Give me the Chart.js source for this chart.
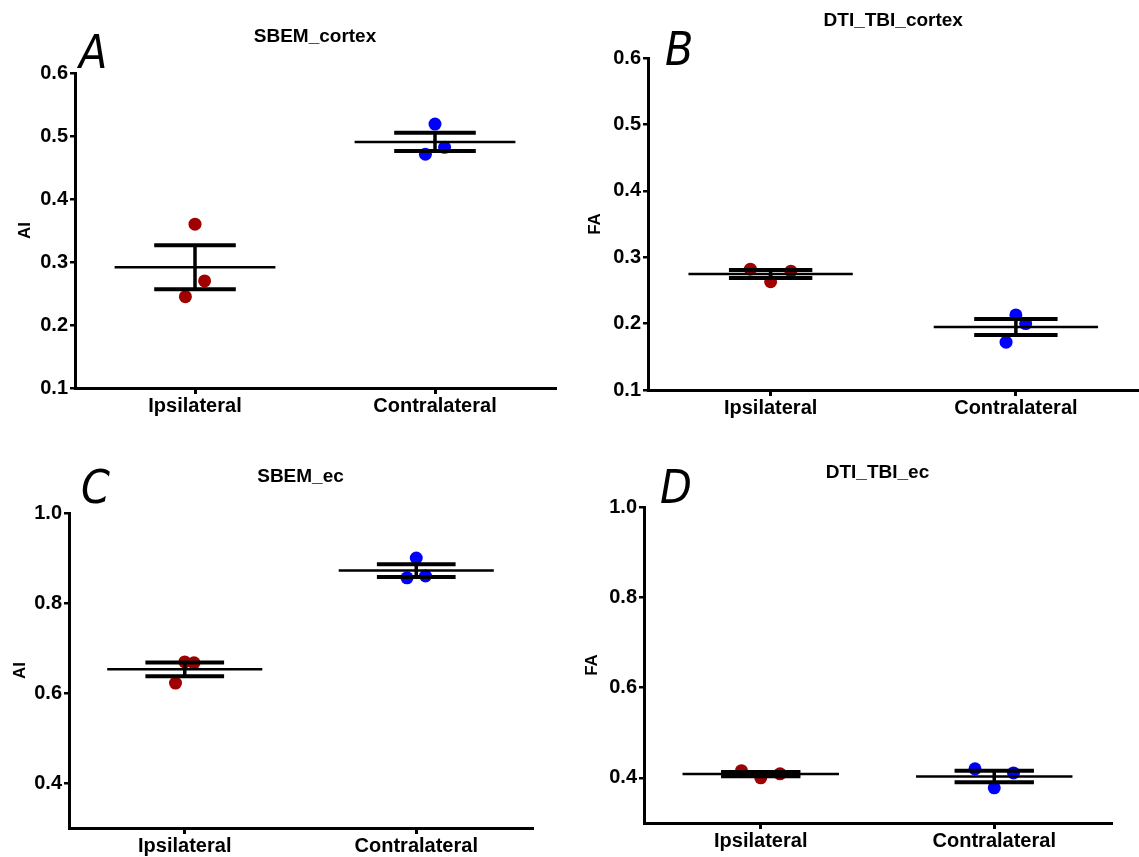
<!DOCTYPE html>
<html>
<head>
<meta charset="utf-8">
<script src="https://cdn.jsdelivr.net/npm/chart.js@4.4.1/dist/chart.umd.min.js"></script>
<style>
  body { margin: 0; background: #fff; }
  #wrap { position: relative; width: 1139px; height: 857px; overflow: hidden; }
  canvas { position: absolute; }
</style>
</head>
<body>
<div id="wrap">
  <canvas id="panelA" width="570" height="430" style="left:0;top:0"></canvas>
  <canvas id="panelB" width="575" height="430" style="left:570px;top:0"></canvas>
  <canvas id="panelC" width="570" height="427" style="left:0;top:430px"></canvas>
  <canvas id="panelD" width="569" height="427" style="left:570px;top:430px"></canvas>
</div>
<script>
const categories = ["Ipsilateral", "Contralateral"];
const yTicksCortex = [0.1, 0.2, 0.3, 0.4, 0.5, 0.6];
const yTicksEc = [0.4, 0.6, 0.8, 1.0];

// three animals per group
const sbemCortexIpsi = [0.360, 0.270, 0.245];
const sbemCortexContra = [0.519, 0.482, 0.471];
const dtiCortexIpsi = [0.282, 0.279, 0.263];
const dtiCortexContra = [0.213, 0.200, 0.172];
const sbemEcIpsi = [0.669, 0.667, 0.622];
const sbemEcContra = [0.900, 0.860, 0.856];
const dtiEcIpsi = [0.416, 0.409, 0.400];
const dtiEcContra = [0.420, 0.411, 0.378];

// sideways spread of the dots, in category units
const jitterNarrow = [0, 0.08, -0.08];
const jitterWide = [-0.165, 0.165, 0];

const groupColors = ["#a00000", "#0000ff"];
const MEAN_HALF = 0.67;
const CAP_HALF = 0.34;

Chart.defaults.font.family = "'Liberation Sans', Arial, sans-serif";
Chart.defaults.font.weight = "bold";
Chart.defaults.font.size = 20;
Chart.defaults.color = "#000";

function mean(a) {
  return a.reduce((s, v) => s + v, 0) / a.length;
}
function sem(a) {
  const m = mean(a);
  const sd = Math.sqrt(a.reduce((s, v) => s + (v - m) * (v - m), 0) / (a.length - 1));
  return sd / Math.sqrt(a.length);
}

function seg(x0, x1, y0, y1, w) {
  return {
    type: "line",
    data: [{ x: x0, y: y0 }, { x: x1, y: y1 }],
    borderColor: "#000",
    borderWidth: w,
    borderCapStyle: "butt",
    pointRadius: 0,
    showLine: true,
    order: 0,
  };
}

function groupDatasets(values, jitter, x, color) {
  const m = mean(values);
  const s = sem(values);
  return [
    {
      data: values.map((v, i) => ({ x: x + jitter[i], y: v })),
      backgroundColor: color,
      borderWidth: 0,
      pointRadius: 6.5,
      order: 1,
    },
    seg(x - MEAN_HALF, x + MEAN_HALF, m, m, 2.5),
    seg(x - CAP_HALF, x + CAP_HALF, m + s, m + s, 4),
    seg(x - CAP_HALF, x + CAP_HALF, m - s, m - s, 4),
    seg(x, x, m - s, m + s, 3.5),
  ];
}

const panelLetter = {
  id: "panelLetter",
  afterDraw(chart, args, opts) {
    const ctx = chart.ctx;
    ctx.save();
    ctx.font = "italic 46px 'Liberation Sans Narrow', 'DejaVu Sans Condensed', sans-serif";
    ctx.fillStyle = "#000";
    ctx.textBaseline = "alphabetic";
    ctx.fillText(opts.text, opts.x, opts.y);
    ctx.restore();
  },
};

function makePanel(p) {
  const datasets = [];
  p.groups.forEach((vals, g) => {
    datasets.push(...groupDatasets(vals, p.jitter[g], g * 2 + 1, groupColors[g]));
  });
  new Chart(document.getElementById(p.id), {
    type: "scatter",
    data: { datasets },
    plugins: [panelLetter],
    options: {
      responsive: false,
      animation: false,
      layout: { padding: { left: 0, top: 0, right: p.padRight, bottom: 0 } },
      plugins: {
        legend: { display: false },
        tooltip: { enabled: false },
        title: {
          display: true,
          text: p.title,
          fullSize: false,
          font: { size: 19, weight: "bold" },
          padding: p.titlePad,
        },
        panelLetter: { text: p.letter, x: p.letterX, y: p.letterY },
      },
      scales: {
        x: {
          type: "linear",
          min: 0,
          max: 4,
          afterFit: (s) => { s.height = p.xHeight; },
          afterBuildTicks: (s) => { s.ticks = categories.map((c, i) => ({ value: i * 2 + 1 })); },
          ticks: {
            padding: 0,
            callback: (v) => categories[(v - 1) / 2],
          },
          grid: { drawOnChartArea: false, color: "#000", lineWidth: 3, tickLength: 6 },
          border: { color: "#000", width: 3 },
        },
        y: {
          min: p.yMin,
          max: p.yMax,
          afterFit: (s) => { s.width = p.yWidth; },
          afterBuildTicks: (s) => { s.ticks = p.yTicks.map((v) => ({ value: v })); },
          ticks: { padding: 2, callback: (v) => v.toFixed(1) },
          grid: { drawOnChartArea: false, color: "#000", lineWidth: 2.5, tickLength: 5 },
          border: { color: "#000", width: 3 },
          title: {
            display: true,
            text: p.yLabel,
            font: { size: 17, weight: "bold" },
            padding: { top: p.yTitlePad, bottom: 0 },
          },
        },
      },
    },
  });
}

makePanel({
  id: "panelA", title: "SBEM_cortex", letter: "A", yLabel: "AI",
  groups: [sbemCortexIpsi, sbemCortexContra], jitter: [jitterNarrow, jitterNarrow],
  yMin: 0.1, yMax: 0.6, yTicks: yTicksCortex,
  yWidth: 75, xHeight: 42, padRight: 15, titlePad: { top: 25.6, bottom: 24.6 },
  yTitlePad: 15, letterX: 79, letterY: 68,
});
makePanel({
  id: "panelB", title: "DTI_TBI_cortex", letter: "B", yLabel: "FA",
  groups: [dtiCortexIpsi, dtiCortexContra], jitter: [jitterWide, jitterNarrow],
  yMin: 0.1, yMax: 0.6, yTicks: yTicksCortex,
  yWidth: 78, xHeight: 40, padRight: 0, titlePad: { top: 9.6, bottom: 25.6 },
  yTitlePad: 15, letterX: 95, letterY: 65,
});
makePanel({
  id: "panelC", title: "SBEM_ec", letter: "C", yLabel: "AI",
  groups: [sbemEcIpsi, sbemEcContra], jitter: [jitterNarrow, jitterNarrow],
  yMin: 0.3, yMax: 1.0, yTicks: yTicksEc,
  yWidth: 69, xHeight: 29, padRight: 38, titlePad: { top: 35.6, bottom: 24.6 },
  yTitlePad: 10, letterX: 81, letterY: 73,
});
makePanel({
  id: "panelD", title: "DTI_TBI_ec", letter: "D", yLabel: "FA",
  groups: [dtiEcIpsi, dtiEcContra], jitter: [jitterWide, jitterWide],
  yMin: 0.3, yMax: 1.0, yTicks: yTicksEc,
  yWidth: 74, xHeight: 34, padRight: 28, titlePad: { top: 31.1, bottom: 23.1 },
  yTitlePad: 12, letterX: 90, letterY: 73,
});
</script>
</body>
</html>
